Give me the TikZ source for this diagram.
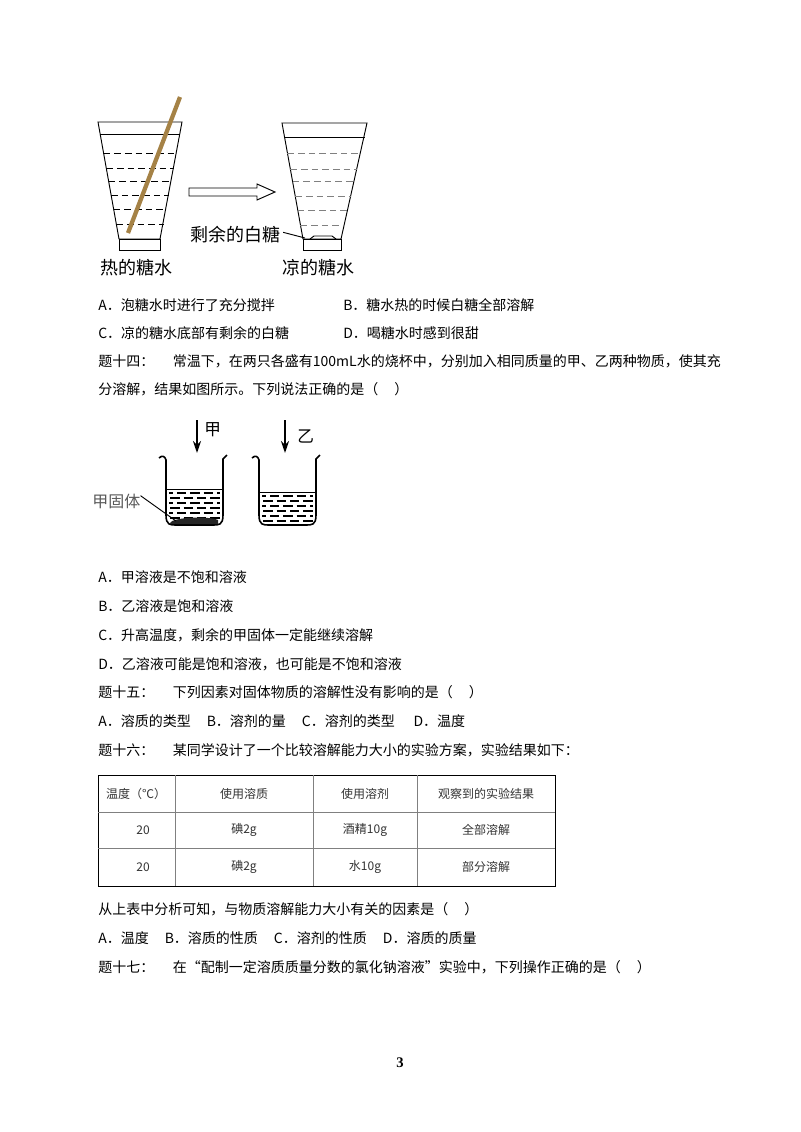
\documentclass[tikz,border=0pt]{standalone}
\usepackage{fontspec}
\usetikzlibrary{arrows.meta}
\setmainfont{Liberation Serif}
\newfontfamily\cjk{Noto Sans CJK SC}
\definecolor{stick}{RGB}{165,130,70}
\begin{document}
\begin{tikzpicture}[x=0.75pt,y=-0.75pt,
  txt/.style={anchor=west,inner sep=0pt,font=\cjk\fontsize{10.5}{12}\selectfont},
  captxt/.style={anchor=west,inner sep=0pt,font=\cjk\fontsize{13.5}{15}\selectfont},
  tab/.style={inner sep=0pt,font=\cjk\fontsize{9}{11}\selectfont,text=black!80},
  dsh/.style={dashed,dash pattern=on 5pt off 3pt,line width=0.7pt},
  ln/.style={line width=0.7pt}]
\useasboundingbox (0,0) rectangle (800,1132);
% cup 1
\draw[ln] (98,122) -- (182,122) -- (160,239) -- (119,239) -- cycle;
\draw[ln] (100,134) -- (180,134);
\draw[ln] (119,239) rectangle (160,250);
\foreach \y in {153,168,181,195,209,224}{
  \pgfmathsetmacro\d{(\y-122)*21/117}
  \draw[dsh] (98+\d,\y) -- (182-\d,\y);}
\draw[line width=3.2pt,color=stick] (180,97) -- (128,233);
% cup 2
\draw[ln] (282,123) -- (367,123) -- (341,239) -- (303,239) -- cycle;
\draw[ln] (284,137) -- (365,137);
\draw[ln] (303,239) rectangle (341,250);
\draw[ln] (310,239) -- (314,236) -- (332,236) -- (336,239);
\foreach \y in {153,169,181,196,210,225}{
  \pgfmathsetmacro\d{(\y-123)*21/116}
  \draw[dsh,gray] (282+\d,\y) -- (367-\d*1.2,\y);}
% hollow arrow
\draw[ln,fill=white] (189,188) -- (257,188) -- (257,184) -- (275,192) -- (257,200) -- (257,196) -- (189,196) -- cycle;
\node[captxt] (rem) at (190,235) {剩余的白糖};
\coordinate (remend) at (305,238);
\draw[ln] (rem.east) ++(2pt,2pt) -- (remend);
\node[captxt] (c1) at (100,268) {热的糖水};
\node[captxt] (c2) at (282,268) {凉的糖水};
% text lines
\node[txt] at (98,305) {A．泡糖水时进行了充分搅拌};
\node[txt] at (343,305) {B．糖水热的时候白糖全部溶解};
\node[txt] at (98,333) {C．凉的糖水底部有剩余的白糖};
\node[txt] at (343,333) {D．喝糖水时感到很甜};
\node[txt] at (98,361) {题十四：\hspace{14pt}常温下，在两只各盛有100mL水的烧杯中，分别加入相同质量的甲、乙两种物质，使其充};
\node[txt] at (98,389) {分溶解，结果如图所示。下列说法正确的是（\hspace{12pt}）};
% beakers
\foreach \bx/\lv in {162/489,255/492}{
  \draw[line width=1.2pt] (\bx-3,458) .. controls (\bx,455) and (\bx+3,456) .. (\bx+4,460)
     -- (\bx+4,515) .. controls (\bx+4,525) and (\bx+8,525) .. (\bx+14,525)
     -- (\bx+51,525) .. controls (\bx+57,525) and (\bx+61,525) .. (\bx+61,515)
     -- (\bx+61,459) -- (\bx+65,455);
  \draw[ln] (\bx+5,\lv) -- (\bx+60,\lv);
  \foreach \yy in {4,9,14,19,24,29}{
    \pgfmathsetmacro\yl{\lv+\yy}
    \ifdim \yl pt<523pt
    \draw[line width=1pt,dash pattern=on 7pt off 3pt,dash phase=\yy pt] (\bx+7,\yl) -- (\bx+58,\yl);
    \fi}
}
\draw[line width=0.8pt] (259,470) -- (259,487);
\fill[black!85] (170,523) .. controls (172,517) and (210,516) .. (218,520) -- (218,524) -- (170,524) -- cycle;
\coordinate (a1s) at (197,420); \coordinate (a1e) at (197,453);
\coordinate (a2s) at (285,420); \coordinate (a2e) at (285,453);
\draw[line width=1.5pt,-{Stealth[length=9pt,width=6pt]}] (a1s) -- (a1e);
\draw[line width=1.5pt,-{Stealth[length=9pt,width=6pt]}] (a2s) -- (a2e);
\node[captxt,font=\cjk\fontsize{12.5}{14}\selectfont] (jia) at (204,430) {甲};
\node[captxt,font=\cjk\fontsize{12.5}{14}\selectfont] (yi) at (297,436) {乙};
\node[captxt,font=\cjk\fontsize{12}{14}\selectfont,text=gray!70!black] (gu) at (92,501) {甲固体};
\coordinate (gue) at (176,521);
\draw[ln] (gu.east) ++(0,4pt) -- (gue);
% lines
\node[txt] at (98,577) {A．甲溶液是不饱和溶液};
\node[txt] at (98,606) {B．乙溶液是饱和溶液};
\node[txt] at (98,635) {C．升高温度，剩余的甲固体一定能继续溶解};
\node[txt] at (98,664) {D．乙溶液可能是饱和溶液，也可能是不饱和溶液};
\node[txt] at (98,692) {题十五：\hspace{14pt}下列因素对固体物质的溶解性没有影响的是（\hspace{12pt}）};
\node[txt] at (98,721) {A．溶质的类型\hspace{12pt}B．溶剂的量\hspace{12pt}C．溶剂的类型\hspace{14pt}D．温度};
\node[txt] at (98,750) {题十六：\hspace{14pt}某同学设计了一个比较溶解能力大小的实验方案，实验结果如下：};
% table
\draw[ln] (98,775) rectangle (555,886);
\draw[ln,gray] (98,812) -- (555,812) (98,848) -- (555,848);
\draw[ln,gray] (175,775) -- (175,886) (313,775) -- (313,886) (417,775) -- (417,886);
\node[tab] at (136,794) {温度（℃）};
\node[tab] at (244,794) {使用溶质};
\node[tab] at (365,794) {使用溶剂};
\node[tab] at (486,794) {观察到的实验结果};
\node[tab] at (143,830) {20};
\node[tab] at (244,830) {碘2g};
\node[tab] at (365,830) {酒精10g};
\node[tab] at (486,830) {全部溶解};
\node[tab] at (143,867) {20};
\node[tab] at (244,867) {碘2g};
\node[tab] at (365,867) {水10g};
\node[tab] at (486,867) {部分溶解};
\node[txt] at (98,909) {从上表中分析可知，与物质溶解能力大小有关的因素是（\hspace{12pt}）};
\node[txt] at (98,938) {A．温度\hspace{12pt}B．溶质的性质\hspace{12pt}C．溶剂的性质\hspace{12pt}D．溶质的质量};
\node[txt] at (98,967) {题十七：\hspace{14pt}在“配制一定溶质质量分数的氯化钠溶液”实验中，下列操作正确的是（\hspace{12pt}）};
\node[font=\bfseries\fontsize{11}{12}\selectfont] at (400,1063) {3};
\end{tikzpicture}
\end{document}
